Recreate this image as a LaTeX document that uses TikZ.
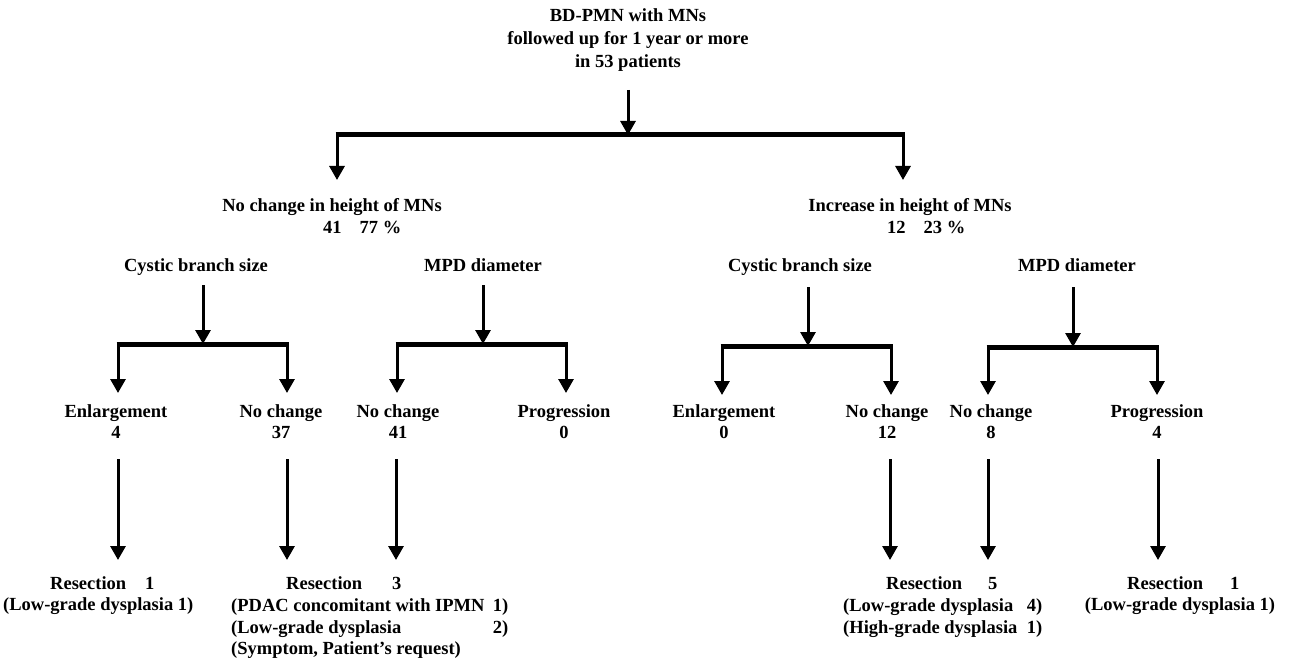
\documentclass[tikz,border=0pt]{standalone}
\usepackage{fontspec}
\setmainfont{Liberation Serif}
\usetikzlibrary{arrows.meta}
\begin{document}
\begin{tikzpicture}[x=1pt,y=-1pt,
  lbl/.style={font=\bfseries\fontsize{18.5}{23}\selectfont, inner sep=0pt, text height=13pt, text depth=4pt},
  ttl/.style={font=\bfseries\fontsize{18.5}{23}\selectfont, inner sep=0pt, align=center},
  duo/.style={font=\bfseries\fontsize{18.5}{21}\selectfont, inner sep=0pt, align=center},
  arr/.style={line width=3pt, -{Triangle[length=14pt,width=15pt]}},
  barline/.style={line width=5pt}]
\fill[white] (0,0) rectangle (1289,663);
\useasboundingbox (0,0) rectangle (1289,663);

% ---------- title ----------
\node[ttl] (title) at (628,40) {BD-PMN with MNs\\followed up for 1 year or more\\in 53 patients};
\coordinate (t0) at (628,90);
\coordinate (t1) at (628,135);
\coordinate (bL) at (337,135);
\coordinate (bR) at (903,135);
\coordinate (bLt) at (337,180);
\coordinate (bRt) at (903,180);
\draw[barline] ([xshift=-1.5pt]bL) -- ([xshift=1.5pt]bR);
\draw[arr] (t0) -- (t1);
\draw[arr] ([yshift=2pt]bL) -- (bLt);
\draw[arr] ([yshift=2pt]bR) -- (bRt);

% ---------- level 1 ----------
\node[lbl] (nochg) at (332,207) {No change in height of MNs};
\node[lbl, anchor=west] (nochgN) at (323,229) {41\hspace{18pt}77 \%};
\node[lbl] (incr) at (910,207) {Increase in height of MNs};
\node[lbl, anchor=west] (incrN) at (887,229) {12\hspace{18pt}23 \%};

% ---------- level 2 ----------
\node[lbl] (cbsL) at (196,267) {Cystic branch size};
\node[lbl] (mpdL) at (483,267) {MPD diameter};
\node[lbl] (cbsR) at (800,267) {Cystic branch size};
\node[lbl] (mpdR) at (1077,267) {MPD diameter};

% left cystic fork
\coordinate (c1a) at (203,285); \coordinate (c1b) at (203,344);
\coordinate (c1L) at (118,344); \coordinate (c1R) at (287,344);
\coordinate (c1Lt) at (118,393); \coordinate (c1Rt) at (287,393);
% left MPD fork
\coordinate (m1a) at (483,285); \coordinate (m1b) at (483,344);
\coordinate (m1L) at (397,344); \coordinate (m1R) at (566,344);
\coordinate (m1Lt) at (397,393); \coordinate (m1Rt) at (566,393);
% right cystic fork
\coordinate (c2a) at (808,287); \coordinate (c2b) at (808,346);
\coordinate (c2L) at (722,346); \coordinate (c2R) at (891,346);
\coordinate (c2Lt) at (722,395); \coordinate (c2Rt) at (891,395);
% right MPD fork
\coordinate (m2a) at (1073,287); \coordinate (m2b) at (1073,347);
\coordinate (m2L) at (988,347); \coordinate (m2R) at (1157,347);
\coordinate (m2Lt) at (988,395); \coordinate (m2Rt) at (1157,395);

\foreach \f in {c1,m1,c2,m2}{
  \draw[barline] ([xshift=-1.5pt]\f L) -- ([xshift=1.5pt]\f R);
  \draw[arr] (\f a) -- (\f b);
  \draw[arr] ([yshift=2pt]\f L) -- (\f Lt);
  \draw[arr] ([yshift=2pt]\f R) -- (\f Rt);
}

% ---------- level 3 ----------
\node[duo] (enlL) at (116,422) {Enlargement\\4};
\node[duo] (ncL1) at (281,422) {No change\\37};
\node[duo] (ncL2) at (398,422) {No change\\41};
\node[duo] (prL)  at (564,422) {Progression\\0};
\node[duo] (enlR) at (724,422) {Enlargement\\0};
\node[duo] (ncR1) at (887,422) {No change\\12};
\node[duo] (ncR2) at (991,422) {No change\\8};
\node[duo] (prR)  at (1157,422) {Progression\\4};

% long arrows
\foreach \n/\x in {a/118,b/287,c/396,d/890,e/988,f/1158}{
  \coordinate (la\n) at (\x,459);
  \coordinate (lb\n) at (\x,560);
  \draw[arr] (la\n) -- (lb\n);
}

% ---------- bottom ----------
\node[lbl, anchor=west] (r1) at (50,585) {Resection\hspace{19pt}1};
\node[lbl, anchor=west] (r1a) at (3,606) {(Low-grade dysplasia 1)};

\node[lbl, anchor=west] (r3) at (286,585) {Resection\hspace{30pt}3};
\node[lbl, anchor=west] (r3a) at (231,607) {\makebox[277pt][l]{(PDAC concomitant with IPMN\hfill 1)}};
\node[lbl, anchor=west] (r3b) at (231,629) {\makebox[277pt][l]{(Low-grade dysplasia\hfill 2)}};
\node[lbl, anchor=west] (r3c) at (231,650) {(Symptom, Patient's request)};

\node[lbl, anchor=west] (r5) at (886,585) {Resection\hspace{26pt}5};
\node[lbl, anchor=west] (r5a) at (843,607) {\makebox[199pt][l]{(Low-grade dysplasia\hfill 4)}};
\node[lbl, anchor=west] (r5b) at (843,629) {\makebox[199pt][l]{(High-grade dysplasia\hfill 1)}};

\node[lbl, anchor=west] (r6) at (1127,585) {Resection\hspace{27pt}1};
\node[lbl] (r6a) at (1180,606) {(Low-grade dysplasia 1)};
\end{tikzpicture}
\end{document}
